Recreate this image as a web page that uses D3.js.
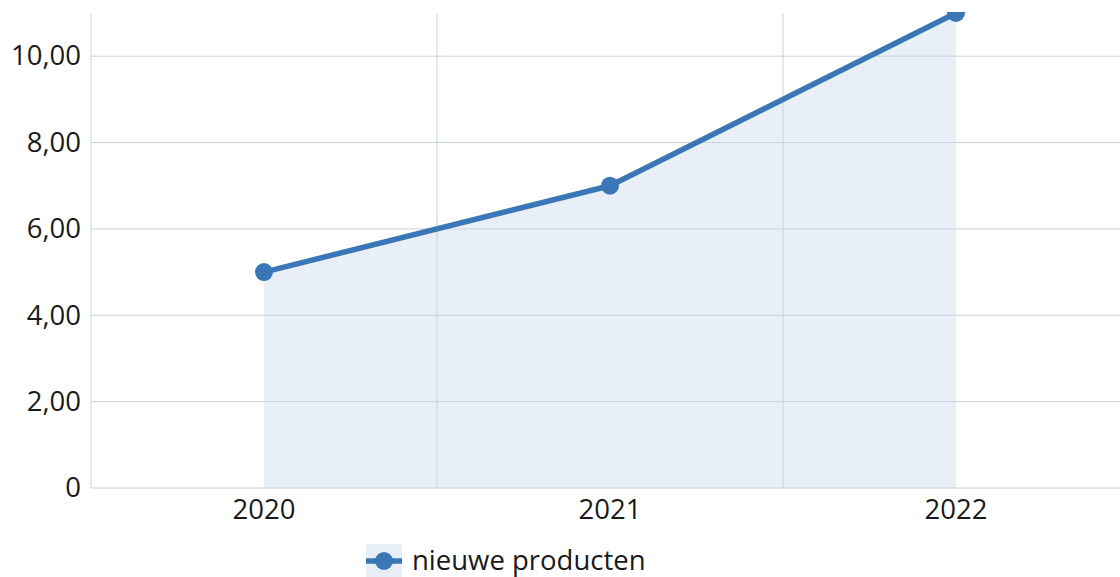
<!DOCTYPE html>
<html><head><meta charset="utf-8">
<script src="https://cdn.jsdelivr.net/npm/d3@7"></script>
<style>
html,body{margin:0;padding:0;background:#fff;}
svg{display:block;font-family:"Open Sans","Noto Sans",sans-serif;}
</style></head>
<body>
<svg id="c" width="1120" height="577"></svg>
<script>
const categories = ["2020","2021","2022"];
const values = [5, 7, 11];
const yTicks = [0, 2, 4, 6, 8, 10];
const seriesName = "nieuwe producten";

(function(){
const svg = d3.select("#c");
const pl = 91, pr = 1129, pt = 13, pb = 488;
const lineColor = "#3a77b7", areaColor = "#e8eff7", gridColor = "#c7d2e0";
const fs = 27.5;

const x = d3.scaleBand().domain(categories).range([pl, pr]).padding(0);
const y = d3.scaleLinear().domain([0, 11]).range([pb, pt]);
const cx = d => x(d) + x.bandwidth() / 2;

svg.append("defs").append("clipPath").attr("id","clip")
  .append("rect").attr("x", 0).attr("y", pt - 1).attr("width", 1120).attr("height", 600);

const pts = categories.map((c, i) => ({c, v: values[i]}));
svg.append("path").datum(pts)
  .attr("fill", areaColor)
  .attr("d", d3.area().x(d => cx(d.c)).y0(y(0)).y1(d => y(d.v)));

svg.append("g").selectAll("line").data(yTicks.filter(t => t > 0)).join("line")
  .attr("x1", pl).attr("x2", 1120).attr("y1", d => y(d)).attr("y2", d => y(d))
  .attr("stroke", gridColor).attr("stroke-width", 1);
svg.append("g").selectAll("line").data(categories.slice(1)).join("line")
  .attr("x1", d => x(d)).attr("x2", d => x(d)).attr("y1", pt).attr("y2", pb)
  .attr("stroke", gridColor).attr("stroke-width", 1);

const yAxis = svg.append("g").attr("transform", `translate(${pl},0)`)
  .call(d3.axisLeft(y).tickValues(yTicks).tickSize(0).tickPadding(10)
    .tickFormat(d => d === 0 ? "0" : d3.format(".2f")(d).replace(".", ",")));
yAxis.select(".domain").attr("stroke", gridColor).attr("d", `M0,${pt}V${pb}`);
yAxis.selectAll("text").attr("font-size", fs).attr("fill", "#1a1a1a")
  .attr("font-family", "'Open Sans','Noto Sans',sans-serif");

const xAxis = svg.append("g").attr("transform", `translate(0,${pb})`)
  .call(d3.axisBottom(x).tickSize(0).tickPadding(11));
xAxis.select(".domain").attr("stroke", gridColor).attr("d", `M${pl},0H1120`);
xAxis.selectAll("text").attr("font-size", fs).attr("fill", "#1a1a1a")
  .attr("font-family", "'Open Sans','Noto Sans',sans-serif");

const g = svg.append("g").attr("clip-path", "url(#clip)");
g.append("path").datum(pts)
  .attr("fill", "none").attr("stroke", lineColor).attr("stroke-width", 5.5)
  .attr("stroke-linejoin", "round")
  .attr("d", d3.line().x(d => cx(d.c)).y(d => y(d.v)));
g.selectAll("circle").data(pts).join("circle")
  .attr("cx", d => cx(d.c)).attr("cy", d => y(d.v)).attr("r", 9)
  .attr("fill", lineColor);

const lg = svg.append("g").attr("transform", "translate(366,544)");
lg.append("rect").attr("width", 36).attr("height", 33).attr("fill", areaColor);
lg.append("line").attr("x1", 0).attr("x2", 36).attr("y1", 17).attr("y2", 17)
  .attr("stroke", lineColor).attr("stroke-width", 5.5);
lg.append("circle").attr("cx", 18).attr("cy", 17).attr("r", 9).attr("fill", lineColor);
lg.append("text").attr("x", 46).attr("y", 16).attr("dy", "0.35em")
  .attr("font-size", fs).attr("fill", "#1a1a1a").text(seriesName);
})();
</script>
</body></html>
